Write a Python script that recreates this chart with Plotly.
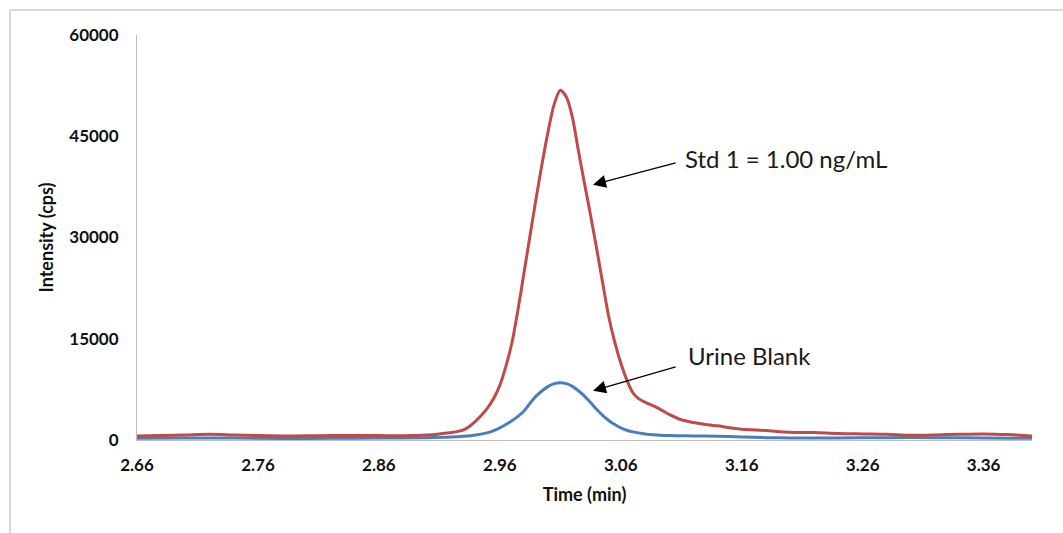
import plotly.graph_objects as go

# ---- data ----
std_time = [2.66, 2.68, 2.70, 2.72, 2.74, 2.76, 2.78, 2.80, 2.82, 2.84, 2.86, 2.88, 2.90, 2.91, 2.92,
            2.93, 2.935, 2.94, 2.945, 2.95, 2.955, 2.96, 2.965, 2.97, 2.975, 2.98, 2.985, 2.99, 2.995,
            3.00, 3.005, 3.01, 3.015, 3.02, 3.025, 3.03, 3.035, 3.04, 3.045, 3.05, 3.055, 3.06, 3.065,
            3.07, 3.075, 3.08, 3.09, 3.10, 3.11, 3.12, 3.13, 3.14, 3.15, 3.16, 3.18, 3.20, 3.22, 3.24,
            3.26, 3.28, 3.30, 3.32, 3.34, 3.36, 3.38, 3.40]
std_int = [600, 650, 750, 850, 750, 650, 600, 620, 650, 680, 650, 620, 750, 900, 1100,
           1500, 2050, 2800, 3700, 4800, 6200, 8100, 10900, 14400, 19300, 24800, 30300, 35800, 41000,
           45800, 49800, 51800, 50800, 47800, 42800, 38000, 33300, 28400, 23300, 18300, 14500, 11400, 8900,
           7000, 6100, 5600, 4800, 3800, 3000, 2600, 2300, 2100, 1800, 1600, 1400, 1150, 1100, 950,
           900, 850, 700, 750, 850, 900, 800, 600]

blank_time = [2.66, 2.70, 2.74, 2.78, 2.82, 2.86, 2.90, 2.92, 2.93, 2.94, 2.95, 2.955, 2.96, 2.965,
              2.97, 2.975, 2.98, 2.985, 2.99, 2.995, 3.00, 3.005, 3.01, 3.015, 3.02, 3.025, 3.03,
              3.035, 3.04, 3.045, 3.05, 3.055, 3.06, 3.065, 3.07, 3.08, 3.09, 3.10, 3.12, 3.14, 3.16,
              3.18, 3.20, 3.24, 3.28, 3.32, 3.36, 3.40]
blank_int = [250, 300, 280, 230, 260, 280, 330, 430, 550, 750, 1100, 1400, 1800, 2300,
             2850, 3500, 4300, 5450, 6500, 7300, 7950, 8350, 8500, 8350, 7950, 7300, 6500,
             5550, 4550, 3650, 2900, 2300, 1800, 1450, 1200, 900, 750, 650, 600, 550, 450,
             350, 300, 300, 350, 350, 300, 250]

x_ticks = [2.66, 2.76, 2.86, 2.96, 3.06, 3.16, 3.26, 3.36]
y_ticks = [0, 15000, 30000, 45000, 60000]

RED = "#BE4B48"
BLUE = "#4A7EBB"
FONT = "Lato"
TXT = "#111111"

fig = go.Figure()
fig.add_trace(go.Scatter(x=blank_time, y=blank_int, mode="lines", name="Urine Blank",
                         line=dict(color=BLUE, width=3, shape="spline", smoothing=0.8)))
fig.add_trace(go.Scatter(x=std_time, y=std_int, mode="lines", name="Std 1 = 1.00 ng/mL",
                         line=dict(color=RED, width=3, shape="spline", smoothing=0.8)))

fig.update_layout(
    width=1063, height=533,
    margin=dict(l=137, r=31, t=35, b=93),
    paper_bgcolor="white", plot_bgcolor="white",
    showlegend=False,
    font=dict(family=FONT, color=TXT),
)
fig.update_xaxes(
    range=[2.66, 3.40], tickvals=x_ticks, ticktext=[f"{v:.2f}" for v in x_ticks],
    showgrid=False, zeroline=False, showline=True, linecolor="#BFBFBF", linewidth=1,
    ticks="outside", ticklen=10, tickcolor="rgba(0,0,0,0)",
    tickfont=dict(family=FONT, size=17, color=TXT, weight="bold"),
    title=dict(text="<b>Time (min)</b>", font=dict(family=FONT, size=18, color=TXT), standoff=13),
)
fig.update_yaxes(
    range=[0, 60000], tickvals=y_ticks, ticktext=[str(v) for v in y_ticks],
    showgrid=False, zeroline=False, showline=True, linecolor="#BFBFBF", linewidth=1,
    ticks="outside", ticklen=14, tickcolor="rgba(0,0,0,0)",
    tickfont=dict(family=FONT, size=17, color=TXT, weight="bold"),
    title=dict(text="<b>Intensity (cps)</b>", font=dict(family=FONT, size=18, color=TXT), standoff=10),
)

# arrows
fig.add_annotation(x=3.037, y=37800, ax=3.1066, ay=41100, xref="x", yref="y", axref="x", ayref="y",
                   text="", showarrow=True, arrowhead=2, arrowsize=2, arrowwidth=1.3, arrowcolor="#000000")
fig.add_annotation(x=3.037, y=7300, ax=3.1066, ay=10900, xref="x", yref="y", axref="x", ayref="y",
                   text="", showarrow=True, arrowhead=2, arrowsize=2, arrowwidth=1.3, arrowcolor="#000000")
# labels
fig.add_annotation(x=3.1115, y=41700, xref="x", yref="y", text="Std 1 = 1.00 ng/mL", showarrow=False,
                   xanchor="left", yanchor="middle", font=dict(family=FONT, size=24, color="#1a1a1a"))
fig.add_annotation(x=3.114, y=12550, xref="x", yref="y", text="Urine Blank", showarrow=False,
                   xanchor="left", yanchor="middle", font=dict(family=FONT, size=24, color="#1a1a1a"))

# outer chart border (top and left edges visible)
fig.add_shape(type="line", xref="paper", yref="paper", x0=(10 - 137) / 895, x1=(1063 - 137) / 895,
              y0=(440 - 10) / 405, y1=(440 - 10) / 405, line=dict(color="#D9D9D9", width=2))
fig.add_shape(type="line", xref="paper", yref="paper", x0=(10 - 137) / 895, x1=(10 - 137) / 895,
              y0=(440 - 10) / 405, y1=(440 - 540) / 405, line=dict(color="#D9D9D9", width=2))

fig.write_html("out.html")
